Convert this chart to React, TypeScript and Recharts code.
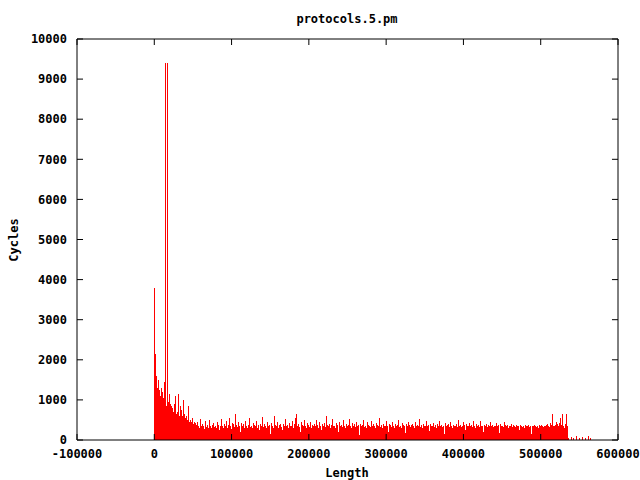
import React from 'react';
import { BarChart, Bar, XAxis, YAxis, ReferenceLine } from 'recharts';

const BIN_WIDTH = 1294;

const headCycles: number[] = [
  3800, 2150, 1600, 1300, 1500, 1250, 1100, 1300, 1200, 1050, 1450, 9400, 850, 9400, 950, 1150, 900, 850, 800, 700,
  900, 1100, 650, 700, 1150, 600, 850, 750, 600, 1000, 650, 550, 600, 500, 850, 450, 500, 450, 550, 400, 450,
];

const bodyCycles: number[] = [
  420, 380, 450, 350, 300, 520, 340, 400, 360, 280, 480, 330, 370, 310, 500, 350, 290, 380, 420, 330,
  360, 300, 450, 380, 260, 340, 520, 360, 310, 400, 350, 480, 300, 370, 560, 340, 280, 420, 390, 330,
  650, 380, 320, 450, 360, 200, 420, 340, 390, 310, 470, 350, 300, 380, 550, 330, 360, 290, 420, 380,
  340, 480, 310, 370, 250, 400, 350, 580, 330, 390, 360, 300, 450, 340, 380, 160, 420, 350, 310, 600,
  380, 340, 460, 300, 370, 410, 330, 250, 390, 360, 520, 340, 380, 300, 430, 360, 340, 480, 310, 390,
  560, 650, 350, 400, 330, 200, 450, 370, 340, 500, 360, 310, 420, 380, 330, 460, 300, 370, 350, 410,
  340, 500, 380, 310, 450, 360, 240, 390, 350, 430, 330, 600, 370, 340, 410, 300, 380, 520, 350, 360,
  310, 420, 370, 200, 450, 340, 380, 330, 490, 360, 310, 400, 350, 380, 530, 340, 300, 420, 360, 390,
  330, 460, 350, 380, 120, 400, 340, 370, 510, 330, 360, 300, 440, 380, 350, 320, 470, 360, 390, 340,
  300, 420, 370, 350, 560, 330, 380, 310, 400, 360, 340, 480, 350, 200, 390, 370, 330, 450, 360, 310,
  400, 340, 380, 500, 330, 360, 310, 420, 370, 350, 180, 390, 340, 460, 370, 330, 380, 400, 350, 310,
  440, 360, 380, 340, 520, 330, 370, 300, 410, 360, 340, 470, 350, 380, 220, 400, 340, 360, 430, 330,
  370, 310, 400, 350, 480, 340, 380, 330, 360, 150, 420, 350, 370, 390, 330, 460, 350, 300, 380, 360,
  340, 410, 330, 500, 360, 380, 320, 350, 440, 370, 250, 390, 340, 360, 420, 350, 380, 330, 470, 360,
  310, 390, 350, 370, 330, 480, 360, 340, 200, 380, 350, 410, 330, 370, 360, 450, 340, 380, 320, 360,
  350, 420, 340, 370, 180, 390, 350, 360, 330, 440, 370, 340, 380, 310, 360, 350, 400, 330, 370, 350,
  320, 380, 360, 340, 250, 370, 350, 330, 360, 300, 380, 350, 340, 370, 330, 360, 150, 350, 340, 380,
  360, 330, 350, 300, 370, 340, 380, 350, 330, 360, 340, 380, 400, 350, 330, 420, 380, 650, 360, 340,
  380, 450, 400, 350, 420, 560, 380, 650, 350, 300, 400, 660, 350,
];

const tailCycles: number[] = [
  60, 0, 0, 80, 0, 40, 0, 0, 90, 0, 0, 50, 0, 0, 70, 0, 0, 40, 0, 0, 100, 0, 50,
];

const xTicks: number[] = [-100000, 0, 100000, 200000, 300000, 400000, 500000, 600000];
const yTicks: number[] = [0, 1000, 2000, 3000, 4000, 5000, 6000, 7000, 8000, 9000, 10000];

const X_MIN = -100000;
const X_MAX = 600000;
const Y_MIN = 0;
const Y_MAX = 10000;
const TICK_DY = 150;
const TICK_DX = 7800;

const allCycles = [...headCycles, ...bodyCycles, ...tailCycles];
const data = allCycles.map((c, i) => ({ len: i * BIN_WIDTH, cycles: c }));

const FONT = '"DejaVu Sans Mono", "Liberation Mono", monospace';
const tickStyle = { fontFamily: FONT, fontSize: 12, fontWeight: 'bold', fill: '#000' } as const;

const ImpulseShape = (props: any) => {
  const { x, y, width, height } = props;
  if (!height || height <= 0) return null;
  return (
    <rect
      x={Math.round(x + width / 2) - 0.5}
      y={y}
      width={1}
      height={height}
      fill="#ff0000"
      stroke="none"
      shapeRendering="crispEdges"
    />
  );
};

export default function App() {
  return (
    <div style={{ position: 'absolute', left: 0, top: 0, width: 640, height: 480, background: '#fff' }}>
      <BarChart width={640} height={480} data={data} margin={{ top: 39, right: 22, bottom: 0, left: 0 }}>
        <XAxis
          dataKey="len"
          type="number"
          domain={[X_MIN, X_MAX]}
          ticks={xTicks}
          tickFormatter={(v: number) => String(v)}
          tickLine={false}
          tickSize={0}
          tickMargin={9}
          axisLine={{ stroke: '#000' }}
          tick={tickStyle}
          height={40}
          interval={0}
          allowDataOverflow
        />
        <YAxis
          type="number"
          domain={[Y_MIN, Y_MAX]}
          ticks={yTicks}
          tickLine={false}
          tickSize={0}
          tickMargin={10}
          axisLine={{ stroke: '#000' }}
          tick={tickStyle}
          width={77}
          interval={0}
          allowDataOverflow
        />
        <Bar dataKey="cycles" barSize={1} shape={ImpulseShape} isAnimationActive={false} />
        <ReferenceLine y={Y_MAX} stroke="#000" />
        <ReferenceLine x={X_MAX} stroke="#000" />
        {xTicks.map((t) => (
          <ReferenceLine key={'xb' + t} segment={[{ x: t, y: Y_MIN }, { x: t, y: Y_MIN + TICK_DY }]} stroke="#000" />
        ))}
        {xTicks.map((t) => (
          <ReferenceLine key={'xt' + t} segment={[{ x: t, y: Y_MAX }, { x: t, y: Y_MAX - TICK_DY }]} stroke="#000" />
        ))}
        {yTicks.map((t) => (
          <ReferenceLine key={'yl' + t} segment={[{ x: X_MIN, y: t }, { x: X_MIN + TICK_DX, y: t }]} stroke="#000" />
        ))}
        {yTicks.map((t) => (
          <ReferenceLine key={'yr' + t} segment={[{ x: X_MAX, y: t }, { x: X_MAX - TICK_DX, y: t }]} stroke="#000" />
        ))}
      </BarChart>
      <div
        style={{
          position: 'absolute', left: 247, width: 200, top: 11, textAlign: 'center',
          fontFamily: FONT, fontSize: 12, fontWeight: 'bold', color: '#000', lineHeight: '16px',
        }}
      >
        protocols.5.pm
      </div>
      <div
        style={{
          position: 'absolute', left: 247, width: 200, top: 465, textAlign: 'center',
          fontFamily: FONT, fontSize: 12, fontWeight: 'bold', color: '#000', lineHeight: '16px',
        }}
      >
        Length
      </div>
      <div
        style={{
          position: 'absolute', left: -36, width: 100, top: 232, textAlign: 'center',
          fontFamily: FONT, fontSize: 12, fontWeight: 'bold', color: '#000', lineHeight: '16px',
          transform: 'rotate(-90deg)',
        }}
      >
        Cycles
      </div>
    </div>
  );
}
